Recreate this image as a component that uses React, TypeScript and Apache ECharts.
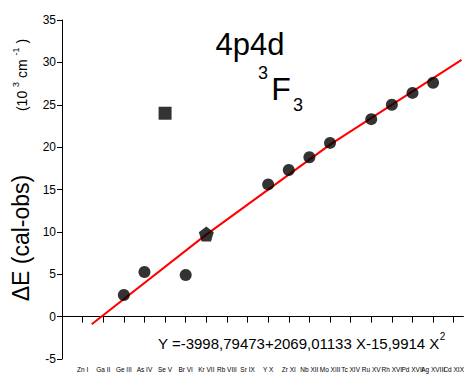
import React, { useEffect, useRef } from "react";
import * as echarts from "echarts";

const categories = ["Zn I", "Ga II", "Ge III", "As IV", "Se V", "Br VI", "Kr VII", "Rb VIII", "Sr IX", "Y X", "Zr XI", "Nb XII", "Mo XIII", "Tc XIV", "Ru XV", "Rh XVI", "Pd XVII", "Ag XVIII", "Cd XIX"];
const circleIons = ["Ge III", "As IV", "Br VI", "Y X", "Zr XI", "Nb XII", "Mo XIII", "Ru XV", "Rh XVI", "Pd XVII", "Ag XVIII"];
const circleValues = [2.55, 5.26, 4.91, 15.6, 17.3, 18.8, 20.5, 23.3, 25.0, 26.4, 27.6];
const squareIons = ["Se V"];
const squareValues = [24.0];
const pentagonIons = ["Kr VII"];
const pentagonValues = [9.75];
// red fitted curve (stage index, value)
const fitX = [1.44, 6.9, 13, 19.38];
const fitY = [-0.9, 9.5, 20.3, 30.3];
const yTicks = { min: -5, max: 35, step: 5 };

const FONT = "Liberation Sans, Arial, sans-serif";
const idx = (name: string) => categories.indexOf(name) + 1;

export default function App() {
  const ref = useRef<HTMLDivElement>(null);
  useEffect(() => {
    if (!ref.current) return;
    const chart = echarts.init(ref.current, undefined, { renderer: "svg" });
    chart.setOption({
      animation: false,
      backgroundColor: "#ffffff",
      grid: { left: 62, right: 0, top: 20, bottom: 15 },
      xAxis: {
        type: "value",
        min: 0,
        max: 19.47,
        interval: 1,
        axisLine: { show: true, lineStyle: { color: "#000", width: 1 } },
        axisTick: { show: true, length: 6, lineStyle: { color: "#000" } },
        axisLabel: {
          fontSize: 6.5,
          margin: 7,
          color: "#000",
          fontFamily: FONT,
          showMaxLabel: false,
          formatter: (v: number) => (Number.isInteger(v) && v >= 1 ? categories[v - 1] || "" : ""),
        },
        splitLine: { show: false },
      },
      yAxis: {
        type: "value",
        min: yTicks.min,
        max: yTicks.max,
        interval: yTicks.step,
        axisLine: { show: true, onZero: false, lineStyle: { color: "#000", width: 1 } },
        axisTick: { show: true, length: 5, lineStyle: { color: "#000" } },
        axisLabel: { fontSize: 12, margin: 6, color: "#000", fontFamily: FONT },
        splitLine: { show: false },
      },
      series: [
        {
          type: "line",
          data: fitX.map((x, i) => [x, fitY[i]]),
          showSymbol: false,
          lineStyle: { color: "#ff0000", width: 2 },
          z: 1,
        },
        {
          type: "scatter",
          data: circleIons.map((n, i) => [idx(n), circleValues[i]]),
          symbol: "circle",
          symbolSize: 12,
          itemStyle: { color: "#000" },
          z: 3,
        },
        {
          type: "scatter",
          data: squareIons.map((n, i) => [idx(n), squareValues[i]]),
          symbol: "rect",
          symbolSize: 13,
          itemStyle: { color: "#000" },
          z: 3,
        },
        {
          type: "scatter",
          data: pentagonIons.map((n, i) => [idx(n), pentagonValues[i]]),
          symbol: "path://M0,-10 L9.51,-3.09 L5.88,8.09 L-5.88,8.09 L-9.51,-3.09 Z",
          symbolSize: 15,
          itemStyle: { color: "#000" },
          z: 3,
        },
      ],
      graphic: [
        { type: "text", x: 250, y: 44, style: { text: "4p4d", font: `31px ${FONT}`, fill: "#000", align: "center", verticalAlign: "middle" } },
        { type: "text", x: 263, y: 73, style: { text: "3", font: `18px ${FONT}`, fill: "#000", align: "center", verticalAlign: "middle" } },
        { type: "text", x: 281, y: 89, style: { text: "F", font: `32px ${FONT}`, fill: "#000", align: "center", verticalAlign: "middle" } },
        { type: "text", x: 298, y: 105, style: { text: "3", font: `18px ${FONT}`, fill: "#000", align: "center", verticalAlign: "middle" } },
        {
          type: "text",
          x: 158,
          y: 341,
          style: {
            text: "{a|Y =-3998,79473+2069,01133 X-15,9914 X}{s|2}",
            fill: "#000",
            align: "left",
            verticalAlign: "middle",
            rich: {
              a: { font: `15px ${FONT}`, fill: "#000", verticalAlign: "bottom", lineHeight: 20 },
              s: { font: `10px ${FONT}`, fill: "#000", verticalAlign: "top", lineHeight: 11 },
            },
          },
        },
        { type: "text", x: 21, y: 238, rotation: Math.PI / 2, style: { text: "ΔE (cal-obs)", font: `23px ${FONT}`, fill: "#000", align: "center", verticalAlign: "middle" } },
        {
          type: "text",
          x: 20,
          y: 75,
          rotation: Math.PI / 2,
          style: {
            text: "{a|(10 }{s|3}{a| cm }{s|-1}{a| )}",
            fill: "#000",
            align: "center",
            verticalAlign: "middle",
            rich: {
              a: { font: `14px ${FONT}`, fill: "#000", verticalAlign: "bottom", lineHeight: 18 },
              s: { font: `9px ${FONT}`, fill: "#000", verticalAlign: "top", lineHeight: 10 },
            },
          },
        },
      ],
    });
    return () => chart.dispose();
  }, []);
  return <div ref={ref} style={{ position: "absolute", left: 0, top: 0, width: 467, height: 374 }} />;
}
